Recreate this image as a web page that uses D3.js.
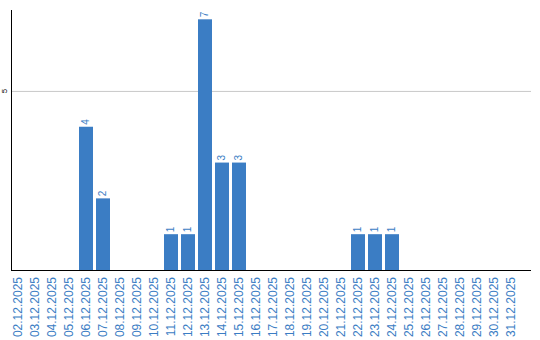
<!DOCTYPE html>
<html>
  <head>
    <meta charset="utf-8">
    <title>Dec 2025 bars</title>
    <script src="https://cdn.jsdelivr.net/npm/d3@7"></script>
    <style>
      body { margin: 0; background: #fff; }
      text { font-family: "Liberation Sans", Arial, sans-serif; }
    </style>
  </head>
  <body>
    <script>

      var days = ["02.12.2025", "03.12.2025", "04.12.2025", "05.12.2025", "06.12.2025",
                  "07.12.2025", "08.12.2025", "09.12.2025", "10.12.2025", "11.12.2025",
                  "12.12.2025", "13.12.2025", "14.12.2025", "15.12.2025", "16.12.2025",
                  "17.12.2025", "18.12.2025", "19.12.2025", "20.12.2025", "21.12.2025",
                  "22.12.2025", "23.12.2025", "24.12.2025", "25.12.2025", "26.12.2025",
                  "27.12.2025", "28.12.2025", "29.12.2025", "30.12.2025", "31.12.2025"];
      var counts = [0, 0, 0, 0, 4, 2, 0, 0, 0, 1, 1, 7, 3, 3, 0, 0, 0, 0, 0, 0, 1, 1, 1, 0, 0, 0, 0, 0, 0, 0];
      var yTicks = [5];

      var blue = "#3b7dc4";

      var svg = d3.select("body")
                  .append("svg")
                  .attr("width", 540)
                  .attr("height", 340);

      var x = d3.scaleBand()
                .domain(days)
                .range([11, 518])
                .paddingInner(3 / 17)
                .paddingOuter(0);

      var y = d3.scaleLinear()
                .domain([0, 7.26])
                .range([270, 10]);

      var rows = days.map(function(d, i) { return { day: d, v: counts[i] }; });

      // grid
      svg.selectAll("line.grid")
         .data(yTicks)
         .enter()
         .append("line")
         .attr("class", "grid")
         .attr("x1", 11)
         .attr("x2", 531)
         .attr("y1", function(d) { return y(d) + 0.5; })
         .attr("y2", function(d) { return y(d) + 0.5; })
         .attr("stroke", "#c8c8c8");

      svg.selectAll("text.ytick")
         .data(yTicks)
         .enter()
         .append("text")
         .attr("class", "ytick")
         .attr("transform", function(d) { return "translate(7," + y(d) + ") rotate(-90)"; })
         .attr("text-anchor", "middle")
         .attr("font-size", 8)
         .attr("fill", "#000")
         .text(function(d) { return d; });

      // bars
      svg.selectAll("rect")
         .data(rows)
         .enter()
         .append("rect")
         .attr("x", function(d) { return x(d.day); })
         .attr("width", x.bandwidth())
         .attr("y", function(d) { return y(d.v); })
         .attr("height", function(d) { return y(0) - y(d.v); })
         .attr("fill", blue);

      // value labels
      svg.selectAll("text.val")
         .data(rows.filter(function(d) { return d.v > 0; }))
         .enter()
         .append("text")
         .attr("class", "val")
         .attr("transform", function(d) {
           return "translate(" + (x(d.day) + x.bandwidth() / 2 + 3) + "," + (y(d.v) - 2) + ") rotate(-90)";
         })
         .attr("font-size", 10)
         .attr("fill", blue)
         .text(function(d) { return d.v; });

      // axes lines
      svg.append("line")
         .attr("x1", 11.5).attr("x2", 11.5)
         .attr("y1", 10).attr("y2", 270)
         .attr("stroke", "#000");
      svg.append("line")
         .attr("x1", 11).attr("x2", 531)
         .attr("y1", 270.5).attr("y2", 270.5)
         .attr("stroke", "#000");

      // x labels
      svg.selectAll("text.xlab")
         .data(days)
         .enter()
         .append("text")
         .attr("class", "xlab")
         .attr("transform", function(d) { return "translate(" + (x(d) + x.bandwidth() / 2 + 4) + ",277) rotate(-90)"; })
         .attr("text-anchor", "end")
         .attr("font-size", 12)
         .attr("fill", blue)
         .text(function(d) { return d; });

    </script>
  </body>
</html>
